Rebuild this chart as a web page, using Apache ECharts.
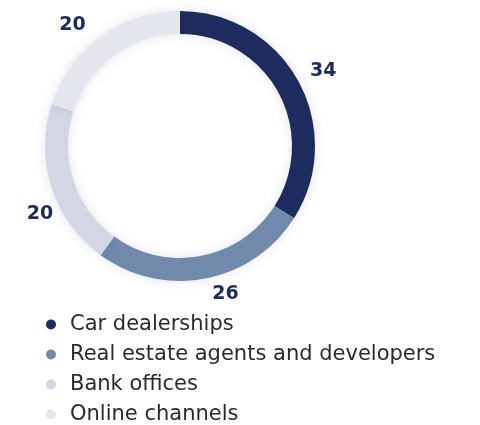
<!DOCTYPE html>
<html>
<head>
<meta charset="utf-8">
<script src="https://cdn.jsdelivr.net/npm/echarts@6/dist/echarts.min.js"></script>
<style>
  html, body { margin: 0; padding: 0; background: #fff; }
  #chart { width: 480px; height: 425px; }
</style>
</head>
<body>
<div id="chart"></div>
<script>
const categories = ["Car dealerships", "Real estate agents and developers", "Bank offices", "Online channels"];
const values = [34, 26, 20, 20];
const colors = ["#1e2b5e", "#718aab", "#d2d7e3", "#e4e6ed"];

// small nudges so the value labels sit where the original puts them
const labelNudge = [[-2, -5], [0, 6], [16, 23], [-4, -4]];

const chart = echarts.init(document.getElementById("chart"));
const option = {
  color: colors,
  legend: {
    orient: "vertical",
    left: 46,
    top: 314,
    padding: 0,
    icon: "circle",
    itemWidth: 28,
    itemHeight: 10,
    itemGap: 9,
    selectedMode: false,
    data: categories,
    textStyle: {
      fontFamily: "DejaVu Sans",
      fontSize: 21,
      color: "#2b2b2b",
      lineHeight: 20
    }
  },
  series: [{
    type: "pie",
    center: [180, 146],
    radius: [112, 135],
    startAngle: 90,
    clockwise: true,
    avoidLabelOverlap: false,
    silent: true,
    itemStyle: {
      shadowBlur: 12,
      shadowColor: "rgba(30,43,94,0.12)"
    },
    label: {
      show: true,
      position: "outside",
      formatter: "{c}",
      color: "#1e2b5e",
      fontFamily: "DejaVu Sans",
      fontWeight: "bold",
      fontSize: 19
    },
    labelLine: { show: false, length: 10, length2: 0 },
    labelLayout: function (params) {
      const n = labelNudge[params.dataIndex];
      return { dx: n[0], dy: n[1] };
    },
    data: categories.map((name, i) => ({ name, value: values[i] }))
  }]
};
chart.setOption(option);
</script>
</body>
</html>
